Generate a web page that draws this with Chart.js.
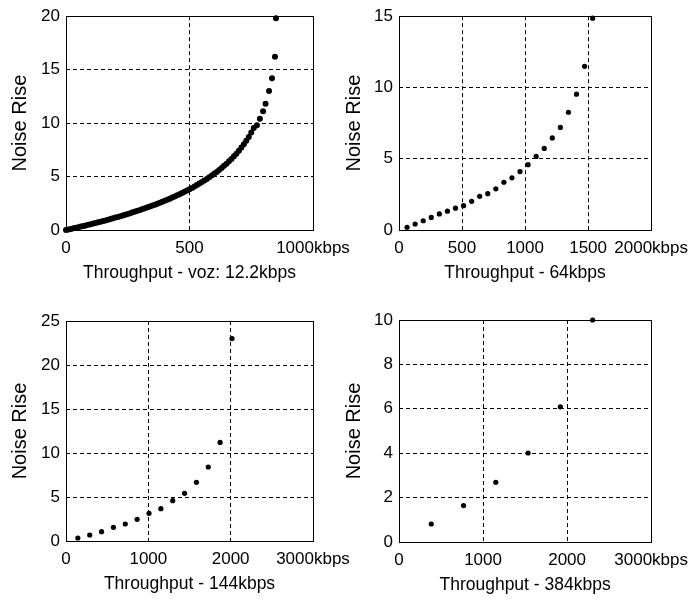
<!DOCTYPE html>
<html>
<head>
<meta charset="utf-8">
<script src="https://cdn.jsdelivr.net/npm/chart.js@4/dist/chart.umd.min.js"></script>
<style>
    body { margin: 0; background: #fff; }
    #wrap { position: relative; width: 696px; height: 603px; }
    canvas { position: absolute; }
</style>
</head>
<body>
<div id="wrap">
    <canvas id="vozChart" width="365" height="300" style="left:0;top:0"></canvas>
    <canvas id="k64Chart" width="361" height="300" style="left:335px;top:0"></canvas>
    <canvas id="k144Chart" width="365" height="303" style="left:0;top:300px"></canvas>
    <canvas id="k384Chart" width="361" height="303" style="left:335px;top:300px"></canvas>
</div>
<script>
// Voz 12.2kbps (muitos pontos)
const vozThroughput = [0, 10, 20, 30, 40, 50, 60, 70, 80, 90, 100, 110, 120, 130, 140, 150, 160, 170, 180, 190,
    200, 210, 220, 230, 240, 250, 260, 270, 280, 290, 300, 310, 320, 330, 340, 350, 360, 370, 380, 390,
    400, 410, 420, 430, 440, 450, 460, 470, 480, 490, 500, 510, 520, 530, 540, 550, 560, 570, 580, 590,
    600, 610, 620, 630, 640, 650, 660, 670, 680, 690, 700, 710, 720, 730, 740, 750, 760,
    773, 785, 798, 808, 822, 834, 846, 850];
const vozNoiseRise = [0, 0.05, 0.1, 0.16, 0.21, 0.26, 0.32, 0.37, 0.43, 0.48, 0.54, 0.6, 0.66, 0.72, 0.78, 0.84, 0.9, 0.96, 1.03, 1.09,
    1.16, 1.22, 1.29, 1.36, 1.43, 1.5, 1.57, 1.65, 1.72, 1.8, 1.88, 1.96, 2.04, 2.12, 2.2, 2.29, 2.37, 2.46, 2.55, 2.65,
    2.74, 2.84, 2.93, 3.04, 3.14, 3.25, 3.35, 3.47, 3.58, 3.7, 3.82, 3.94, 4.07, 4.2, 4.34, 4.48, 4.62, 4.77, 4.93, 5.09,
    5.26, 5.43, 5.61, 5.8, 6.0, 6.2, 6.42, 6.65, 6.89, 7.14, 7.42, 7.71, 8.02, 8.35, 8.71, 9.11, 9.54,
    9.8, 10.4, 11.1, 11.8, 13.0, 14.2, 16.2, 19.8];

// 64kbps
const k64Throughput = [64, 128, 192, 256, 320, 384, 448, 512, 576, 640, 704, 768, 832, 896, 960, 1024,
    1088, 1152, 1216, 1280, 1344, 1408, 1472, 1536];
const k64NoiseRise = [0.19, 0.42, 0.65, 0.88, 1.13, 1.32, 1.53, 1.71, 2.01, 2.36, 2.55, 2.89, 3.35, 3.66, 4.1, 4.58,
    5.16, 5.72, 6.46, 7.2, 8.26, 9.53, 11.48, 14.86];

// 144kbps
const k144Throughput = [144, 288, 432, 576, 720, 864, 1008, 1152, 1296, 1440, 1584, 1728, 1872, 2016];
const k144NoiseRise = [0.34, 0.68, 1.06, 1.55, 1.93, 2.46, 3.14, 3.67, 4.58, 5.42, 6.67, 8.41, 11.2, 23.0];

// 384kbps
const k384Throughput = [384, 768, 1152, 1536, 1920, 2304];
const k384NoiseRise = [0.81, 1.64, 2.69, 4.01, 6.09, 10.0];

// Eixos
const vozXTicks = { max: 1000, step: 500 };
const k64XTicks = { max: 2000, step: 500 };
const k144XTicks = { max: 3000, step: 1000 };
const k384XTicks = { max: 3000, step: 1000 };
const vozYTicks = { max: 20, step: 5 };
const k64YTicks = { max: 15, step: 5 };
const k144YTicks = { max: 25, step: 5 };
const k384YTicks = { max: 10, step: 2 };

const xTitles = ["Throughput - voz: 12.2kbps", "Throughput - 64kbps", "Throughput - 144kbps", "Throughput - 384kbps"];
const yTitle = "Noise Rise";

const textFont = "'Liberation Sans', Arial, sans-serif";

Chart.defaults.color = '#000';

// moldura preta em volta da area do grafico
const framePlugin = {
    id: 'frame',
    beforeDatasetsDraw(chart) {
        const a = chart.chartArea;
        const ctx = chart.ctx;
        const L = Math.round(a.left), T = Math.round(a.top), R = Math.round(a.right), B = Math.round(a.bottom);
        ctx.save();
        ctx.fillStyle = '#000';
        ctx.fillRect(L, T, R - L + 1, 1);
        ctx.fillRect(L, B, R - L + 1, 1);
        ctx.fillRect(L, T, 1, B - T + 1);
        ctx.fillRect(R, T, 1, B - T + 1);
        ctx.restore();
    }
};

function makePanel(id, xs, ys, xt, yt, xTitle, pad, yWidth, yTitlePad, radius) {
    const points = xs.map((x, i) => ({ x: x, y: ys[i] }));
    new Chart(document.getElementById(id).getContext('2d'), {
        type: 'scatter',
        data: {
            datasets: [{
                data: points,
                backgroundColor: '#000',
                borderWidth: 0,
                pointRadius: radius,
                clip: false
            }]
        },
        options: {
            responsive: false,
            animation: false,
            layout: { padding: pad },
            plugins: { legend: { display: false }, tooltip: { enabled: false } },
            scales: {
                x: {
                    type: 'linear',
                    min: 0,
                    max: xt.max,
                    afterFit: (s) => { s.height = 56; },
                    ticks: {
                        stepSize: xt.step,
                        padding: 8,
                        autoSkip: false,
                        maxRotation: 0,
                        font: { family: textFont, size: 17 },
                        callback: (v) => v === xt.max ? v + 'kbps' : v
                    },
                    grid: { color: '#000', drawTicks: false, borderDash: [4, 3] },
                    border: { display: false, dash: [4, 3] },
                    title: {
                        display: true,
                        text: xTitle,
                        padding: { top: 0, bottom: 2.5 },
                        font: { family: textFont, size: 17.5 }
                    }
                },
                y: {
                    type: 'linear',
                    min: 0,
                    max: yt.max,
                    afterFit: (s) => { s.width = yWidth; },
                    ticks: {
                        stepSize: yt.step,
                        padding: 6,
                        autoSkip: false,
                        font: { family: textFont, size: 17 }
                    },
                    grid: { color: '#000', drawTicks: false, borderDash: [4, 3] },
                    border: { display: false, dash: [4, 3] },
                    title: {
                        display: true,
                        text: yTitle,
                        padding: { top: yTitlePad, bottom: 0 },
                        font: { family: textFont, size: 20 }
                    }
                }
            }
        },
        plugins: [framePlugin]
    });
}

makePanel('vozChart', vozThroughput, vozNoiseRise, vozXTicks, vozYTicks, xTitles[0],
    { left: 0, top: 13, right: 52, bottom: 14 }, 66, 8, 3);
makePanel('k64Chart', k64Throughput, k64NoiseRise, k64XTicks, k64YTicks, xTitles[1],
    { left: 0, top: 14, right: 43, bottom: 14 }, 64, 7.4, 2.6);
makePanel('k144Chart', k144Throughput, k144NoiseRise, k144XTicks, k144YTicks, xTitles[2],
    { left: 0, top: 21, right: 52, bottom: 6 }, 66, 8, 2.6);
makePanel('k384Chart', k384Throughput, k384NoiseRise, k384XTicks, k384YTicks, xTitles[3],
    { left: 0, top: 20, right: 42, bottom: 5 }, 64, 7.4, 2.6);
</script>
</body>
</html>
